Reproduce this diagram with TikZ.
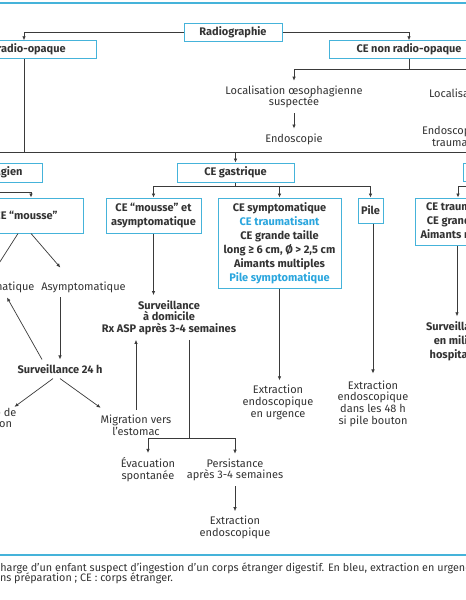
\documentclass[tikz,border=0pt]{standalone}
\usepackage{fontspec}
\setmainfont{Fira Sans}
\usetikzlibrary{arrows.meta,positioning,calc}
\definecolor{cyanbord}{HTML}{45B3DA}
\definecolor{bleutexte}{HTML}{2AA6DE}
\definecolor{gristexte}{HTML}{333333}
\definecolor{gristrait}{HTML}{3A3A3A}

\begin{document}
\begin{tikzpicture}[x=1pt,y=-1pt,
  every node/.style={font=\fontsize{11}{11.7}\selectfont,text=gristexte},
  cadre/.style={draw=cyanbord,line width=1pt,fill=white,align=center,inner sep=0pt,
    font=\fontsize{11}{14}\selectfont\bfseries},
  libre/.style={align=center,inner sep=3pt,outer sep=2pt},
  gras/.style={libre,font=\fontsize{11}{11.7}\selectfont\bfseries},
  trait/.style={draw=gristrait,line width=0.7pt},
  fl/.style={trait,-{Latex[length=4pt,width=3.5pt]}}]
\useasboundingbox (0,0) rectangle (466,600);
\clip (0,0) rectangle (466,600);
\fill[white] (0,0) rectangle (466,600);
\draw[cyanbord,line width=1.5pt] (0,3) -- (466,3);
\draw[cyanbord,line width=1.5pt] (0,555) -- (466,555);

% premier niveau
\node[cadre,minimum width=98pt,minimum height=18pt] (radio) at (233,32) {Radiographie};
\node[cadre,minimum width=144pt,minimum height=17.5pt] (ro) at (24,49.5) {CE radio-opaque};
\node[cadre,minimum width=160pt,minimum height=17.5pt] (nro) at (409,49.5) {CE non radio-opaque};
\draw[fl] (radio.west) -| (ro.north);
\draw[fl] (radio.east) -| (nro.north);

% CE non radio-opaque
\node[libre] (loceso) at (294,97) {Localisation œsophagienne\\suspectée};
\node[libre] (endo) at (294,139) {Endoscopie};
\node[libre,anchor=west] (locgas) at (424,93) {Localisation};
\node[libre,anchor=west,align=left] (endoi) at (417,136) {Endoscopie\\\hspace*{10pt}traumatisant};
\draw[trait] (nro.south) -- ++(0,11) coordinate (nrob);
\coordinate (nrod) at (520,82);
\draw[fl] (nrob) -| (loceso.north);
\draw[fl] (nrob) -| (nrod);
\draw[fl] (loceso.south) -- (endo.north);

% CE radio-opaque
\coordinate (barre) at (24,152);
\node[cadre,minimum width=116pt,minimum height=19pt] (oeso) at (-16,172.5) {CE œsophagien};
\node[cadre,minimum width=117pt,minimum height=19pt] (gastr) at (235.5,172.5) {CE gastrique};
\node[cadre,minimum width=134pt,minimum height=18pt] (intest) at (530,172) {};
\draw[trait] (ro.south) -- (barre);
\draw[fl] (barre) -| (oeso.north);
\draw[fl] (barre) -| (gastr.north);
\draw[fl] (barre) -| (intest.north);

% CE oesophagien
\node[cadre,minimum width=114pt,minimum height=35pt] (mousse) at (26,215.5) {CE “mousse”};
\node[libre] (symptom) at (-5,287) {Symptomatique};
\node[libre] (asym) at (83.5,287) {Asymptomatique};
\node[gras] (surv24) at (60,369) {Surveillance 24 h};
\node[libre] (abs) at (-12,419) {Absence de\\migration};
\node[libre] (migr) at (136,425) {Migration vers\\l’estomac};
\draw[trait] ($(oeso.south)+(6,0)$) -- ++(0,10) coordinate (oesob);
\draw[fl] (oesob) -| ($(mousse.north)+(5,0)$);
\draw[fl] ($(mousse.south)+(-8,0)$) -- ($(symptom.north)+(0,-7)$);
\draw[fl] ($(mousse.south)+(5,0)$) -- ($(asym.north west)+(24,-9)$);
\draw[fl] (surv24.north |- asym.south) -- (surv24.north);
\draw[fl] ($(surv24.north)+(-18,0)$) -- ($(symptom.south)+(12,0)$);
\draw[fl] ($(surv24.south)+(-7,0)$) -- ($(abs.north east)+(-7,4)$);
\draw[fl] (surv24.south) -- ($(migr.north west)+(5,-2)$);

% CE gastrique
\node[cadre,minimum width=95pt,minimum height=35pt] (mas) at (153.5,215.5) {CE “mousse” et\\asymptomatique};
\node[cadre,minimum width=123pt,minimum height=90pt] (symp) at (279.5,243) {CE symptomatique\\
  \textcolor{bleutexte}{CE traumatisant}\\CE grande taille\\long ≥ 6 cm, Ø > 2,5 cm\\
  Aimants multiples\\\textcolor{bleutexte}{Pile symptomatique}};
\node[cadre,minimum width=25pt,minimum height=25pt] (pile) at (370.5,210.5) {Pile};
\draw[trait] (gastr.south) -- ++(0,4) coordinate (gastrb);
\draw[fl] (gastrb) -| (mas.north);
\draw[fl] (gastrb) -| (symp.north);
\draw[fl] (gastrb) -| (pile.north);
\node[gras] (survd) at (169,317.5) {Surveillance\\à domicile\\Rx ASP après 3-4 semaines};
\node[libre] (extr1) at (278,402.5) {Extraction\\endoscopique\\en urgence};
\node[libre] (extr48) at (373,403.5) {Extraction\\endoscopique\\dans les 48 h\\si pile bouton};
\draw[fl] (mas.south) -- (mas.south |- survd.north);
\draw[fl] (migr.north) -- (migr.north |- survd.south);
\draw[fl] (symp.south) -- (symp.south |- extr1.north);
\draw[fl,shorten >=2pt] (pile.south -| extr48.north) -- (extr48.north);
\node[libre] (evac) at (148,470) {Évacuation\\spontanée};
\node[libre] (pers) at (235,470) {Persistance\\après 3-4 semaines};
\node[libre] (extr2) at (235,527.5) {Extraction\\endoscopique};
\coordinate (embr) at (189,438);
\draw[trait] (embr |- survd.south) -- (embr);
\draw[fl] (embr) -| (evac.north);
\draw[fl] (embr) -| (pers.north);
\draw[fl] (pers.south) -- (extr2.north);

% branche de droite
\node[cadre,minimum width=102pt,minimum height=47pt] (rtrau) at (466,221.5) {CE traumatisant\\CE grande taille\\Aimants multiples};
\node[libre,font=\fontsize{11}{14}\selectfont\bfseries] (survh) at (457,341) {Surveillance\\en milieu\\hospitalier};
\draw[trait] (intest.south) -- ++(0,5) coordinate (intb);
\draw[fl] (intb) -| ($(rtrau.north)+(-8,0)$);
\draw[fl] (rtrau.south -| survh.north) -- (survh.north);

% legende
\node[anchor=west,inner sep=0pt,font=\fontsize{10.8}{9}\selectfont] (leg1) at (-5,568)
  {charge d’un enfant suspect d’ingestion d’un corps étranger digestif. En bleu, extraction en urgence};
\node[anchor=west,inner sep=0pt,font=\fontsize{10.8}{9}\selectfont] (leg2) at (-11,578)
  {sans préparation ; CE : corps étranger.};
\end{tikzpicture}
\end{document}
